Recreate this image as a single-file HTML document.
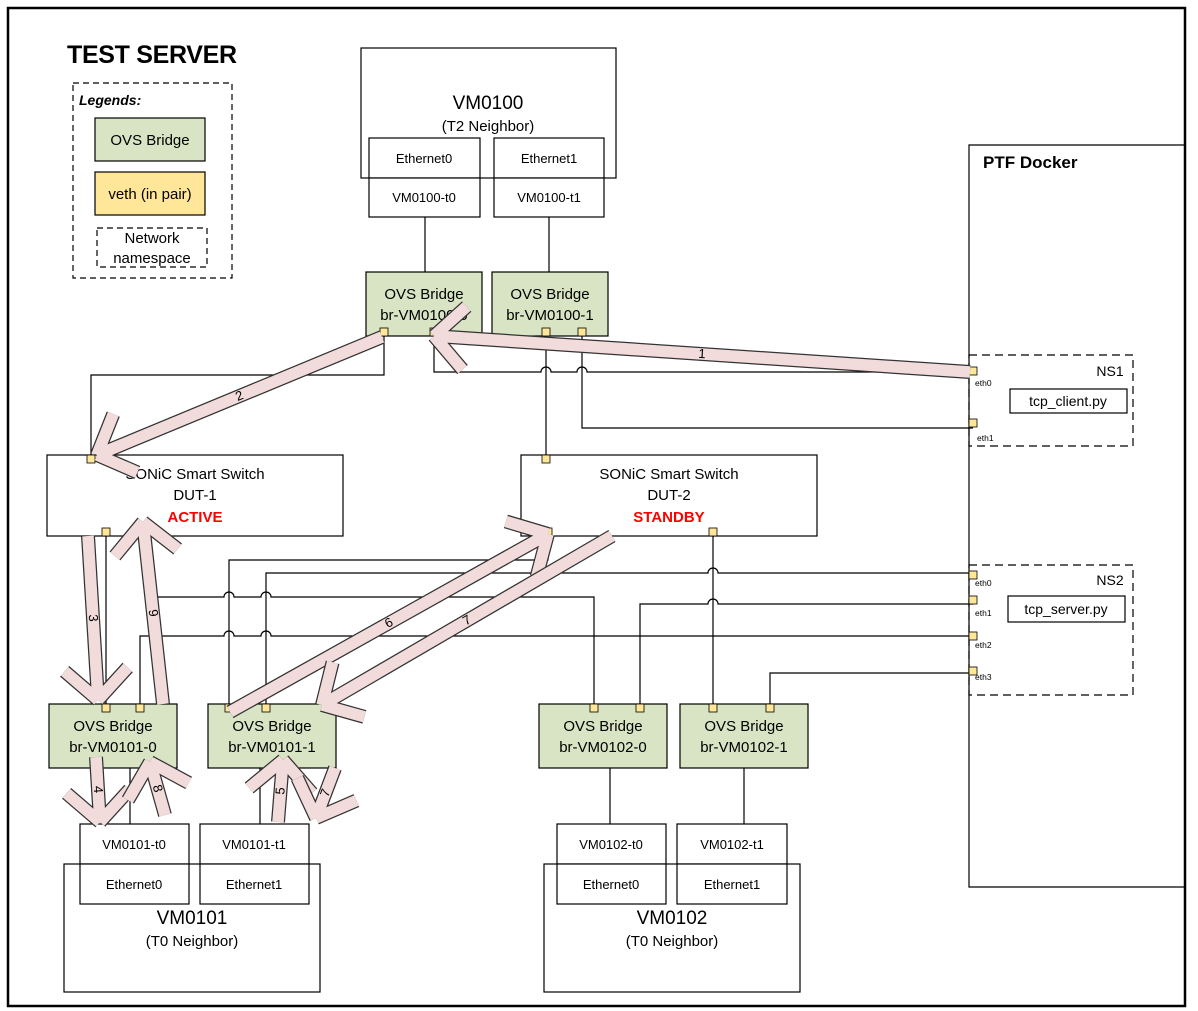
<!DOCTYPE html>
<html><head><meta charset="utf-8"><style>
html,body{margin:0;padding:0;background:#fff}
svg{display:block;font-family:"Liberation Sans",Calibri,sans-serif}
</style></head><body>
<svg id="s" width="1198" height="1011" viewBox="0 0 1198 1011" xmlns="http://www.w3.org/2000/svg">
<rect x="0" y="0" width="1198" height="1011" fill="#fff"/>
<rect x="8" y="8" width="1177" height="998" fill="none" stroke="#000" stroke-width="2.5"/>
<text x="67" y="63" font-size="25" font-weight="bold" textLength="170">TEST SERVER</text>
<g stroke="#000" stroke-width="1.2" fill="none">
<rect x="73" y="83" width="159" height="195" stroke-dasharray="6,4"/>
<rect x="95" y="118" width="110" height="43" fill="#d9e4c4"/>
<rect x="95" y="172" width="110" height="43" fill="#ffe699"/>
<rect x="97" y="228" width="110" height="39" stroke-dasharray="6,4"/>
<rect x="361" y="48" width="255" height="130"/>
<rect x="369" y="138" width="111" height="40" fill="#fff"/>
<rect x="369" y="178" width="111" height="39" fill="#fff"/>
<rect x="494" y="138" width="110" height="40" fill="#fff"/>
<rect x="494" y="178" width="110" height="39" fill="#fff"/>
<path d="M425 217V272M549 217V272"/>
<rect x="366" y="272" width="116" height="64" fill="#d9e4c4"/>
<rect x="492" y="272" width="116" height="64" fill="#d9e4c4"/>
<path d="M1184 145H969V887H1184"/>
<rect x="969" y="355" width="164" height="91" stroke-dasharray="8,5"/>
<rect x="1010" y="389" width="117" height="24"/>
<rect x="969" y="565" width="164" height="130" stroke-dasharray="8,5"/>
<rect x="1008" y="596" width="117" height="26"/>
<rect x="47" y="455" width="296" height="81"/>
<rect x="521" y="455" width="296" height="81"/>
<path d="M384 336V375H91V455"/>
<path d="M434 336V372H541a5 5 0 0 1 10 0H577a5 5 0 0 1 10 0H973"/>
<path d="M546 336V455"/>
<path d="M582 336V428H973"/>
<path d="M106 536V704"/>
<path d="M150 536V597H224a5 5 0 0 1 10 0H261a5 5 0 0 1 10 0H594V704"/>
<path d="M140 704V636H224a5 5 0 0 1 10 0H261a5 5 0 0 1 10 0H973"/>
<path d="M548 536V560H229V704"/>
<path d="M266 704V573H708a5 5 0 0 1 10 0H973"/>
<path d="M640 704V604H708a5 5 0 0 1 10 0H973"/>
<path d="M713 536V704"/>
<path d="M770 704V673H973"/>
<rect x="49" y="704" width="128" height="64" fill="#d9e4c4"/>
<rect x="208" y="704" width="128" height="64" fill="#d9e4c4"/>
<rect x="539" y="704" width="128" height="64" fill="#d9e4c4"/>
<rect x="680" y="704" width="128" height="64" fill="#d9e4c4"/>
<path d="M130 768V824M260 768V824M610 768V824M744 768V824"/>
<rect x="64" y="864" width="256" height="128"/>
<rect x="80" y="824" width="109" height="40" fill="#fff"/>
<rect x="80" y="864" width="109" height="40" fill="#fff"/>
<rect x="200" y="824" width="109" height="40" fill="#fff"/>
<rect x="200" y="864" width="109" height="40" fill="#fff"/>
<rect x="544" y="864" width="256" height="128"/>
<rect x="557" y="824" width="109" height="40" fill="#fff"/>
<rect x="557" y="864" width="109" height="40" fill="#fff"/>
<rect x="677" y="824" width="110" height="40" fill="#fff"/>
<rect x="677" y="864" width="110" height="40" fill="#fff"/>
</g>
<g fill="#ffe699" stroke="#000" stroke-width="0.8" id="ports"></g>
<g font-size="15" text-anchor="middle">
<text x="79" y="105" text-anchor="start" font-style="italic" font-weight="bold" font-size="14">Legends:</text>
<text x="150" y="145">OVS Bridge</text>
<text x="150" y="199">veth (in pair)</text>
<text x="152" y="243">Network</text>
<text x="152" y="263">namespace</text>
<text x="488" y="109" font-size="19">VM0100</text>
<text x="488" y="131">(T2 Neighbor)</text>
<text x="424" y="163" font-size="13">Ethernet0</text>
<text x="424" y="202" font-size="13">VM0100-t0</text>
<text x="549" y="163" font-size="13">Ethernet1</text>
<text x="549" y="202" font-size="13">VM0100-t1</text>
<text x="424" y="299">OVS Bridge</text><text x="424" y="320">br-VM0100-0</text>
<text x="550" y="299">OVS Bridge</text><text x="550" y="320">br-VM0100-1</text>
<text x="983" y="168" text-anchor="start" font-weight="bold" font-size="17">PTF Docker</text>
<text x="1110" y="376" font-size="14">NS1</text>
<text x="1068" y="406" font-size="14">tcp_client.py</text>
<text x="1110" y="585" font-size="14">NS2</text>
<text x="1066" y="614" font-size="14">tcp_server.py</text>
<g font-size="8.5" text-anchor="start">
<text x="975" y="386">eth0</text><text x="977" y="441">eth1</text>
<text x="975" y="586">eth0</text><text x="975" y="616">eth1</text>
<text x="975" y="648">eth2</text><text x="975" y="680">eth3</text>
</g>
<text x="195" y="479">SONiC Smart Switch</text><text x="195" y="500">DUT-1</text>
<text x="195" y="522" fill="#ff0000" font-weight="bold">ACTIVE</text>
<text x="669" y="479">SONiC Smart Switch</text><text x="669" y="500">DUT-2</text>
<text x="669" y="522" fill="#ff0000" font-weight="bold">STANDBY</text>
<text x="113" y="731">OVS Bridge</text><text x="113" y="752">br-VM0101-0</text>
<text x="272" y="731">OVS Bridge</text><text x="272" y="752">br-VM0101-1</text>
<text x="603" y="731">OVS Bridge</text><text x="603" y="752">br-VM0102-0</text>
<text x="744" y="731">OVS Bridge</text><text x="744" y="752">br-VM0102-1</text>
<g font-size="13">
<text x="134" y="849">VM0101-t0</text><text x="134" y="889">Ethernet0</text>
<text x="254" y="849">VM0101-t1</text><text x="254" y="889">Ethernet1</text>
<text x="611" y="849">VM0102-t0</text><text x="611" y="889">Ethernet0</text>
<text x="732" y="849">VM0102-t1</text><text x="732" y="889">Ethernet1</text>
</g>
<text x="192" y="924" font-size="19">VM0101</text><text x="192" y="946">(T0 Neighbor)</text>
<text x="672" y="924" font-size="19">VM0102</text><text x="672" y="946">(T0 Neighbor)</text>
</g>
<g id="arrows"></g>
</svg>
<script>
var NS="http://www.w3.org/2000/svg";
var ports=[[384,332],[434,332],[546,332],[582,332],[973,371],[973,423],[973,575],[973,600],[973,636],[973,671],
[91,459],[106,532],[150,532],[546,459],[548,532],[713,532],[106,708],[140,708],[229,708],[266,708],[594,708],[640,708],[713,708],[770,708]];
var pg=document.getElementById("ports");
ports.forEach(function(p){var r=document.createElementNS(NS,"rect");r.setAttribute("x",p[0]-4);r.setAttribute("y",p[1]-4);r.setAttribute("width",8);r.setAttribute("height",8);pg.appendChild(r);});
var arrows=[[970,372,434,336,"1"],[382,337,97,455,"2"],[88,536,98,700,"3"],[163,704,143,522,"9"],[96,757,100,822,"4"],[165,815,150,762,"8"],
[230,712,548,534,"6"],[612,536,322,705,"7"],[278,822,283,760,"5"],[335,768,316,818,"7"]];
var ag=document.getElementById("arrows");
function ln(x1,y1,x2,y2,w,c){var l=document.createElementNS(NS,"line");l.setAttribute("x1",x1);l.setAttribute("y1",y1);l.setAttribute("x2",x2);l.setAttribute("y2",y2);l.setAttribute("stroke",c);l.setAttribute("stroke-width",w);ag.appendChild(l);}
arrows.forEach(function(a){
 var dx=a[2]-a[0],dy=a[3]-a[1],L=Math.hypot(dx,dy),ux=dx/L,uy=dy/L,ang=Math.atan2(-uy,-ux),arms=[];
 [0.8,-0.8].forEach(function(d){arms.push([a[2]+44*Math.cos(ang+d),a[3]+44*Math.sin(ang+d)]);});
 var segs=[[a[0],a[1],a[2],a[3]],[a[2],a[3],arms[0][0],arms[0][1]],[a[2],a[3],arms[1][0],arms[1][1]]];
 segs.forEach(function(s){ln(s[0],s[1],s[2],s[3],14,"#333");});
 segs.forEach(function(s){ln(s[0],s[1],s[2],s[3],11.5,"#f2dcdb");});
 var mx=(a[0]+a[2])/2,my=(a[1]+a[3])/2,deg=Math.atan2(dy,dx)*180/Math.PI;
 if(deg>90)deg-=180; if(deg<-90)deg+=180;
 var t=document.createElementNS(NS,"text");t.setAttribute("x",mx);t.setAttribute("y",my+4);t.setAttribute("font-size","13");t.setAttribute("text-anchor","middle");
 t.setAttribute("transform","rotate("+deg+" "+mx+" "+my+")");t.textContent=a[4];ag.appendChild(t);
});
</script>
</body></html>
